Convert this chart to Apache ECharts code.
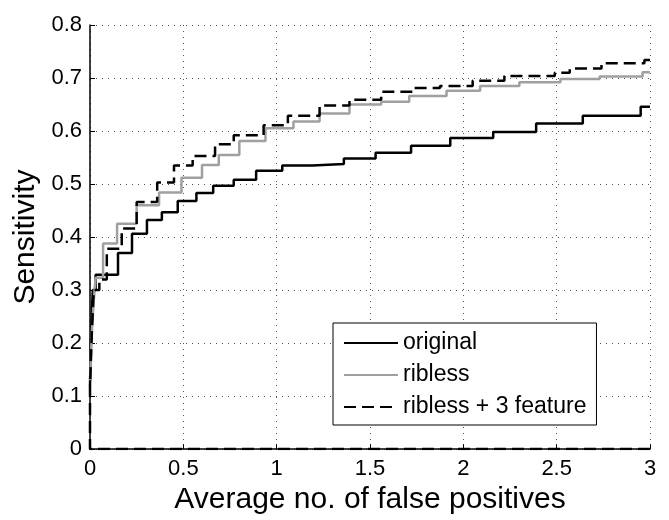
<!DOCTYPE html>
<html>
<head>
<meta charset="utf-8">
<script src="https://cdn.jsdelivr.net/npm/echarts@6/dist/echarts.min.js"></script>
<style>
  html, body { margin: 0; padding: 0; background: #fff; }
  #chart { width: 669px; height: 520px; }
</style>
</head>
<body>
<div id="chart"></div>
<script>
// step curves: at x the curve jumps to y
var originalX = [0, 0.005, 0.01, 0.015, 0.03, 0.15, 0.225, 0.305, 0.385, 0.47, 0.57, 0.66, 0.77, 0.89, 1.03, 1.19, 1.36, 1.53, 1.72, 1.93, 2.16, 2.39, 2.64, 2.95, 3];
var originalY = [0.12, 0.2, 0.26, 0.3, 0.329, 0.37, 0.406, 0.432, 0.447, 0.468, 0.483, 0.497, 0.508, 0.525, 0.535, 0.538, 0.548, 0.559, 0.572, 0.587, 0.598, 0.614, 0.629, 0.646, 0.646];

var riblessX = [0, 0.01, 0.02, 0.03, 0.07, 0.145, 0.25, 0.37, 0.49, 0.6, 0.69, 0.8, 0.94, 1.09, 1.23, 1.39, 1.56, 1.71, 1.91, 2.09, 2.3, 2.52, 2.73, 2.96, 3];
var riblessY = [0.13, 0.22, 0.28, 0.323, 0.388, 0.425, 0.46, 0.484, 0.512, 0.536, 0.555, 0.581, 0.605, 0.618, 0.633, 0.65, 0.655, 0.666, 0.676, 0.685, 0.692, 0.698, 0.703, 0.711, 0.711];

var featureX = [3, 0, 0, 0.01, 0.02, 0.05, 0.09, 0.17, 0.25, 0.36, 0.45, 0.55, 0.67, 0.77, 0.93, 1.06, 1.23, 1.39, 1.56, 1.73, 1.875, 2.05, 2.22, 2.49, 2.57, 2.74, 2.97, 3];
var featureY = [0, 0, 0.12, 0.22, 0.3, 0.32, 0.378, 0.416, 0.466, 0.503, 0.535, 0.553, 0.575, 0.592, 0.611, 0.629, 0.648, 0.659, 0.674, 0.681, 0.685, 0.695, 0.704, 0.71, 0.718, 0.728, 0.734, 0.734];

var seriesNames = ["original", "ribless", "ribless + 3 feature"];

function pairs(xs, ys) {
  var out = [];
  for (var i = 0; i < xs.length; i++) out.push([xs[i], ys[i]]);
  return out;
}

var chart = echarts.init(document.getElementById("chart"));
var font = "'Liberation Sans', Arial, sans-serif";

var option = {
  backgroundColor: "#fff",
  animation: false,
  grid: { left: 90, right: 19, top: 25, bottom: 64 },
  legend: {
    left: 333,
    top: 323,
    orient: "vertical",
    data: seriesNames,
    itemWidth: 54,
    itemHeight: 14,
    itemGap: 8,
    padding: [8, 10, 6, 10],
    borderColor: "#000",
    borderWidth: 1,
    borderRadius: 0,
    backgroundColor: "#fff",
    itemStyle: { opacity: 0 }, // hide the marker dot, keep the line
    textStyle: { fontFamily: font, fontSize: 23, color: "#000", lineHeight: 24 },
  },
  xAxis: {
    type: "value",
    min: 0,
    max: 3,
    interval: 0.5,
    name: "Average no. of false positives",
    nameLocation: "middle",
    nameGap: 30,
    nameTextStyle: { fontFamily: font, fontSize: 30, color: "#000" },
    axisLine: { lineStyle: { color: "#000", width: 1.5 } },
    axisTick: { inside: true, length: 5, lineStyle: { color: "#000" } },
    axisLabel: { fontFamily: font, fontSize: 22, color: "#000", margin: 9 },
    splitLine: { show: true, lineStyle: { color: "#555", type: [1, 5], width: 1 } },
  },
  yAxis: {
    type: "value",
    min: 0,
    max: 0.8,
    interval: 0.1,
    name: "Sensitivity",
    nameLocation: "middle",
    nameGap: 48,
    nameTextStyle: { fontFamily: font, fontSize: 30, color: "#000" },
    axisLine: { show: true, lineStyle: { color: "#000", width: 1.5 } },
    axisTick: { show: true, inside: true, length: 5, lineStyle: { color: "#000" } },
    axisLabel: { fontFamily: font, fontSize: 22, color: "#000", margin: 8 },
    splitLine: { show: true, lineStyle: { color: "#555", type: [1, 5], width: 1 } },
  },
  series: [
    {
      name: seriesNames[0],
      type: "line",
      step: "end",
      symbol: "none",
      data: pairs(originalX, originalY),
      lineStyle: { color: "#000", width: 2.5 },
      itemStyle: { color: "#000" },
    },
    {
      name: seriesNames[1],
      type: "line",
      step: "end",
      symbol: "none",
      data: pairs(riblessX, riblessY),
      lineStyle: { color: "#a0a0a0", width: 2.5 },
      itemStyle: { color: "#a0a0a0" },
    },
    {
      name: seriesNames[2],
      type: "line",
      step: "end",
      symbol: "none",
      data: pairs(featureX, featureY),
      lineStyle: { color: "#000", width: 2.5, type: [12, 6] },
      itemStyle: { color: "#000" },
    },
  ],
};
chart.setOption(option);
</script>
</body>
</html>
